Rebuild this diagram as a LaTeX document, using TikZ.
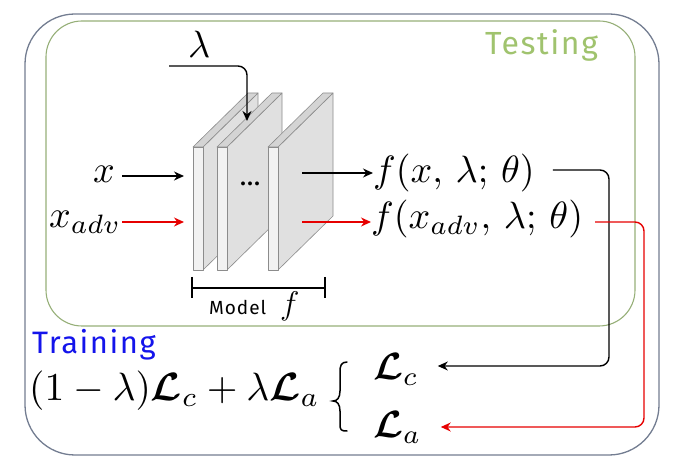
\documentclass[tikz,border=0pt]{standalone}
\usepackage{graphicx}
\usepackage{fontspec}
\setmainfont{Liberation Serif}
\newfontfamily\labelfont[LetterSpace=5]{Fira Sans}
\usetikzlibrary{arrows.meta}
\definecolor{outerc}{RGB}{115,125,145}
\definecolor{innerc}{RGB}{150,175,120}
\definecolor{testc}{RGB}{160,195,110}
\definecolor{trainc}{RGB}{20,20,235}
\definecolor{redc}{RGB}{230,0,0}
\definecolor{sideg}{RGB}{224,224,224}
\definecolor{topg}{RGB}{212,212,212}
\definecolor{frontg}{RGB}{242,242,242}
\definecolor{edgeg}{RGB}{140,140,140}
\newcommand{\BigMath}[1]{\scalebox{3.8}{$#1$}}
\newcommand{\calL}{\mbox{\boldmath$\mathcal{L}$}}
\tikzset{
  arr/.style={-{Stealth[length=10pt,width=9pt]}, line width=1.4pt},
  bigtxt/.style={font=\fontsize{10}{12}\selectfont, inner sep=0pt, anchor=base west},
  plate/.style={draw=edgeg, line width=0.6pt, line join=round},
}
\begin{document}
\begin{tikzpicture}[x=1pt,y=-1pt]
\useasboundingbox (0,0) rectangle (681,473);
% frames
\draw[outerc, line width=1.3pt, rounded corners=50] (25,14) rectangle (659,455);
\draw[innerc, line width=1.1pt, rounded corners=36] (46,21) rectangle (635,326);
\node[text=testc, font=\labelfont\fontsize{32}{33}\selectfont, anchor=base west, inner sep=0pt] (testing) at (485,55) {Testing};
\node[text=trainc, font=\labelfont\fontsize{31}{32}\selectfont, anchor=base west, inner sep=0pt] (training) at (32,354) {Training};
% plates
\foreach \x in {193,217,268}{
  \filldraw[plate, fill=sideg] (\x+10,147) -- (\x+65,93) -- (\x+65,216) -- (\x+10,270) -- cycle;
  \filldraw[plate, fill=topg] (\x,147) -- (\x+55,93) -- (\x+65,93) -- (\x+10,147) -- cycle;
  \filldraw[plate, fill=frontg] (\x,147) rectangle (\x+10,270);
}
\node[font=\fontsize{24}{24}\selectfont\bfseries, inner sep=0pt, anchor=base west] (dots) at (240,186) {.\kern1pt.\kern1pt.};
% lambda
\node[bigtxt] (lam) at (188,58) {\BigMath{\lambda}};
\coordinate (lamstart) at (169,66);
\coordinate (lamend) at (247,121);
\draw[arr, rounded corners=9] (lamstart) -| (lamend);
% inputs
\node[bigtxt] (x) at (93,183) {\BigMath{x}};
\node[bigtxt] (xadv) at (49,228) {\BigMath{x_{adv}}};
\coordinate (inxs) at (122,176);
\coordinate (inx) at (184,176);
\coordinate (inxadvs) at (122,222);
\coordinate (inxadv) at (184,222);
\draw[arr] (inxs) -- (inx);
\draw[arr, redc] (inxadvs) -- (inxadv);
% outputs
\node[bigtxt] (fx) at (373,183) {\BigMath{f(x,\,\lambda;\,\theta)}};
\node[bigtxt] (fxadv) at (371,229) {\BigMath{f(x_{adv},\,\lambda;\,\theta)}};
\coordinate (outx) at (302,173);
\coordinate (outxadv) at (302,222);
\draw[arr] (outx) -- (outx -| fx.west);
\draw[arr, redc] (outxadv) -- (outxadv -| fxadv.west);
% model bracket
\coordinate (mb1) at (192,288);
\coordinate (mb2) at (325,288);
\draw[line width=1.4pt] (mb1) -- (mb2);
\draw[line width=1.4pt] ([yshift=11pt]mb1) -- ([yshift=-10pt]mb1);
\draw[line width=1.4pt] ([yshift=11pt]mb2) -- ([yshift=-10pt]mb2);
\node[font=\labelfont\fontsize{19}{20}\selectfont, inner sep=0pt, anchor=base west] (model) at (209,315) {Model\hspace{14pt}\scalebox{1.9}{$f$}};
% loss
\node[bigtxt] (loss) at (29,401) {\scalebox{3.95}{$(1-\lambda)\calL_c+\lambda\calL_a$}};
\draw[line width=1.5pt, line cap=round] (347,362) .. controls (341,362) and (340,366) .. (340,372) -- (340,391) .. controls (340,398) and (337,401) .. (333,401) .. controls (337,401) and (340,404) .. (340,411) -- (340,424) .. controls (340,430) and (341,431) .. (347,431);
\node[bigtxt] (Lc) at (373,380) {\BigMath{\calL_c}};
\node[bigtxt] (La) at (373,438) {\BigMath{\calL_a}};
\coordinate (bendc) at (609,0);
\coordinate (benda) at (644,0);
\draw[arr, rounded corners=9] ([xshift=18pt,yshift=13pt]fx.base east) -| (bendc |- 0,366) -- ([xshift=19pt,yshift=14pt]Lc.base east);
\draw[arr, redc, rounded corners=9] ([xshift=12pt,yshift=7pt]fxadv.base east) -| (benda |- 0,427) -- ([xshift=19pt,yshift=11pt]La.base east);
\end{tikzpicture}
\end{document}
